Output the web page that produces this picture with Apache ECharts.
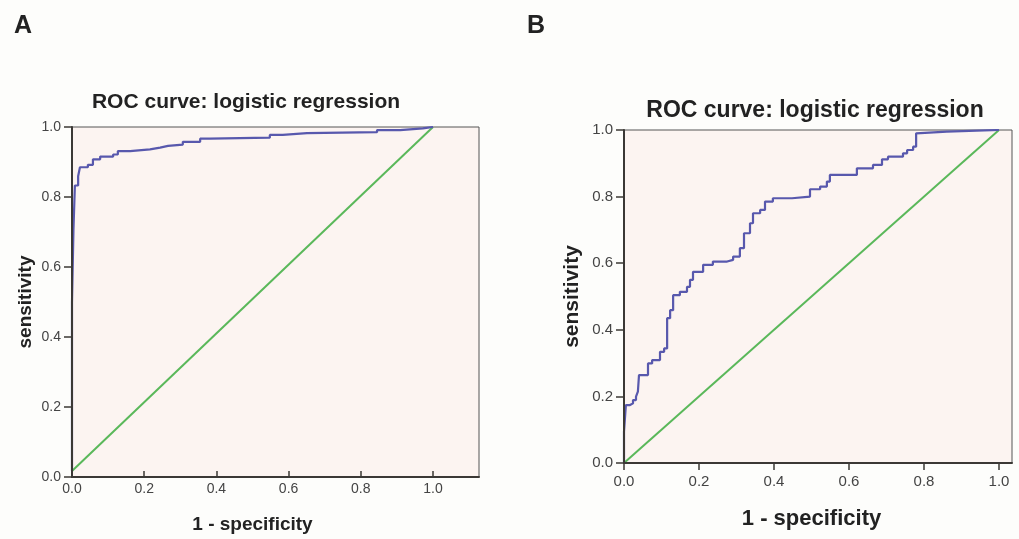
<!DOCTYPE html>
<html>
<head>
<meta charset="utf-8">
<script src="https://cdn.jsdelivr.net/npm/echarts@6/dist/echarts.min.js"></script>
<style>
  html, body { margin: 0; padding: 0; background: #fdfdfb; }
  #chart { width: 1019px; height: 539px; }
</style>
</head>
<body>
<div id="chart"></div>
<script>
// ROC curve A (1 - specificity, sensitivity)
const fprA = [0, 0, 0.004, 0.008, 0.017, 0.022, 0.044, 0.058, 0.078, 0.114, 0.127, 0.161, 0.216, 0.244, 0.266, 0.307, 0.355, 0.382, 0.548, 0.584, 0.651, 0.845, 0.909, 0.972, 1];
const tprA = [0, 0.49, 0.70, 0.83, 0.857, 0.883, 0.89, 0.906, 0.914, 0.92, 0.93, 0.935, 0.94, 0.945, 0.949, 0.957, 0.966, 0.969, 0.977, 0.982, 0.985, 0.991, 0.996, 1.0, 1.0];

// ROC curve B
const fprB = [0, 0, 0.005, 0.016, 0.024, 0.032, 0.037, 0.04, 0.064, 0.075, 0.096, 0.107, 0.115, 0.123, 0.131, 0.149, 0.168, 0.176, 0.184, 0.211, 0.237, 0.275, 0.291, 0.309, 0.32, 0.336, 0.344, 0.363, 0.376, 0.397, 0.448, 0.496, 0.523, 0.541, 0.549, 0.621, 0.664, 0.688, 0.704, 0.744, 0.755, 0.771, 0.779, 0.784, 0.861, 1];
const tprB = [0, 0.094, 0.174, 0.179, 0.189, 0.199, 0.214, 0.264, 0.299, 0.309, 0.334, 0.344, 0.435, 0.459, 0.504, 0.514, 0.529, 0.55, 0.574, 0.595, 0.605, 0.61, 0.62, 0.645, 0.69, 0.72, 0.75, 0.76, 0.785, 0.795, 0.80, 0.822, 0.83, 0.845, 0.865, 0.885, 0.895, 0.912, 0.92, 0.93, 0.94, 0.95, 0.99, 0.995, 1.0, 1.0];

// reference line
const diagX = [0, 1];
const diagY = [0, 1];

const tickLabels = ['0.0', '0.2', '0.4', '0.6', '0.8', '1.0'];

const zip = (xs, ys) => xs.map((x, i) => [x, ys[i]]);

const plotBg = '#fcf4f1';
const axisColor = '#3b3835';
const labelColor = '#444';
const textColor = '#222';
const fmt = v => tickLabels[Math.round(v / 0.2)] || '';

function frameGrid(left, top, width, height) {
  return { left, top, width, height, show: true, backgroundColor: plotBg, borderColor: '#555', borderWidth: 1 };
}

function frameX(gridIndex) {
  return {
    type: 'value', gridIndex, min: 0, max: 1, z: 6,
    axisLine: { show: true, lineStyle: { color: axisColor, width: 2 } },
    axisTick: { show: false }, axisLabel: { show: false }, splitLine: { show: false }
  };
}

function unitX(gridIndex, fontSize, nameSize, nameGap) {
  return {
    type: 'value', gridIndex, min: 0, max: 1, interval: 0.2,
    name: '1 - specificity', nameLocation: 'middle', nameGap,
    nameTextStyle: { fontSize: nameSize, fontWeight: 'bold', color: textColor, fontFamily: 'Liberation Sans' },
    axisLine: { show: false },
    axisTick: { show: true, length: 7, lineStyle: { color: axisColor, width: 1.5 } },
    axisLabel: { margin: 11, fontSize, color: labelColor, fontFamily: 'Liberation Sans', formatter: fmt },
    splitLine: { show: false }
  };
}

function frameY(gridIndex, fontSize, nameSize, nameGap) {
  return {
    type: 'value', gridIndex, min: 0, max: 1, interval: 0.2, z: 6,
    name: 'sensitivity', nameLocation: 'middle', nameGap,
    nameTextStyle: { fontSize: nameSize, fontWeight: 'bold', color: textColor, fontFamily: 'Liberation Sans' },
    axisLine: { show: true, lineStyle: { color: axisColor, width: 2 } },
    axisTick: { show: true, length: 8, lineStyle: { color: axisColor, width: 1.5 } },
    axisLabel: { margin: 11, fontSize, color: labelColor, fontFamily: 'Liberation Sans', formatter: fmt },
    splitLine: { show: false }
  };
}

function unitY(gridIndex) {
  return { type: 'value', gridIndex, min: 0, max: 1, show: false };
}

function rocSeries(axisIndex, data) {
  return {
    type: 'line', xAxisIndex: axisIndex, yAxisIndex: axisIndex, data,
    step: 'end', symbol: 'none', z: 4,
    lineStyle: { color: '#5858ad', width: 2.2 }
  };
}

function diagSeries(axisIndex) {
  return {
    type: 'line', xAxisIndex: axisIndex, yAxisIndex: axisIndex, data: zip(diagX, diagY),
    symbol: 'none', z: 3,
    lineStyle: { color: '#5ab85a', width: 2 }
  };
}

const chart = echarts.init(document.getElementById('chart'));
chart.setOption({
  backgroundColor: '#fdfdfb',
  animation: false,
  grid: [
    frameGrid(72, 127, 407, 350),
    { left: 72, top: 127, width: 361, height: 350 },
    frameGrid(624, 130, 388, 333),
    { left: 624, top: 130, width: 375, height: 333 }
  ],
  xAxis: [frameX(0), unitX(1, 14, 19, 44), frameX(2), unitX(3, 15, 22, 45)],
  yAxis: [frameY(0, 14, 19, 37), unitY(1), frameY(2, 15, 21, 41), unitY(3)],
  series: [
    diagSeries(1), rocSeries(1, zip(fprA, tprA)),
    diagSeries(3), rocSeries(3, zip(fprB, tprB))
  ],
  graphic: [
    { type: 'text', left: 14, top: 14, style: { text: 'A', fontSize: 25, fontWeight: 'bold', fill: textColor, fontFamily: 'Liberation Sans' } },
    { type: 'text', left: 527, top: 14, style: { text: 'B', fontSize: 25, fontWeight: 'bold', fill: textColor, fontFamily: 'Liberation Sans' } },
    { type: 'text', x: 246, y: 102, style: { text: 'ROC curve: logistic regression', fontSize: 21, fontWeight: 'bold', fill: textColor, fontFamily: 'Liberation Sans', align: 'center', verticalAlign: 'middle' } },
    { type: 'text', x: 815, y: 111, style: { text: 'ROC curve: logistic regression', fontSize: 23, fontWeight: 'bold', fill: textColor, fontFamily: 'Liberation Sans', align: 'center', verticalAlign: 'middle' } }
  ]
});
</script>
</body>
</html>
